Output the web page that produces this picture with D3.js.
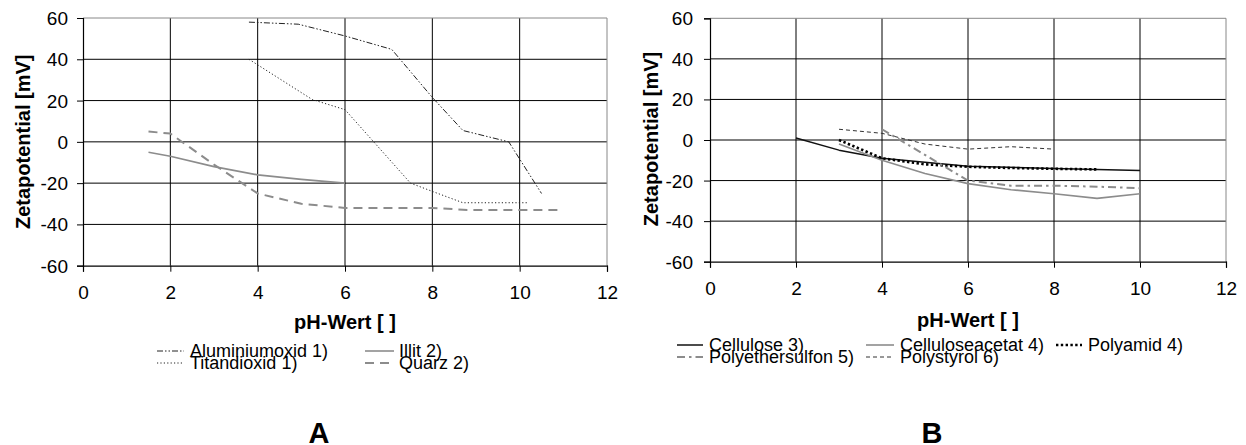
<!DOCTYPE html>
<html>
<head>
<meta charset="utf-8">
<script src="https://cdn.jsdelivr.net/npm/d3@7"></script>
<style>
  html, body { margin: 0; padding: 0; background: #fff; }
  svg { display: block; font-family: "Liberation Sans", Arial, sans-serif; }
</style>
</head>
<body>
<svg id="chart" width="1246" height="445"></svg>
<script>
// Axis ticks (both panels share the same axes)
const xTicks = [0, 2, 4, 6, 8, 10, 12];
const yTicks = [-60, -40, -20, 0, 20, 40, 60];
const xTitle = "pH-Wert [ ]";
const yTitle = "Zetapotential [mV]";

// Panel A: mineral particles
const aluminiumoxidPH = [3.8, 4.93, 6, 7.07, 8, 8.7, 9.75, 10.5];
const aluminiumoxidZeta = [58, 57, 51.3, 44.8, 21.5, 5.5, 0, -25];
const titandioxidPH = [3.8, 5.25, 6, 7.5, 8, 8.7, 10.2];
const titandioxidZeta = [40, 20.5, 15.6, -20, -24, -29.5, -29.5];
const illitPH = [1.5, 2, 3, 4, 5, 6];
const illitZeta = [-5, -7, -12, -16, -18.2, -20];
const quarzPH = [1.5, 2, 3, 4, 5, 6, 8, 8.8, 11];
const quarzZeta = [5, 4, -11, -25, -30, -32, -32, -33, -33];

// Panel B: polymer materials
const cellulosePH = [2, 3, 4, 6, 8, 10];
const celluloseZeta = [1, -5, -9, -13, -14, -15];
const celluloseacetatPH = [3, 4, 5, 6, 7, 8, 9, 10];
const celluloseacetatZeta = [-2, -10, -16.5, -21.5, -24.5, -26.5, -28.8, -26.5];
const polyamidPH = [3, 4, 5, 6, 7, 8, 9];
const polyamidZeta = [0, -9, -12, -13.2, -13.8, -14.2, -14.5];
const polyethersulfonPH = [4, 6, 7, 8, 9, 10];
const polyethersulfonZeta = [5.3, -20, -22.5, -22.5, -23, -23.8];
const polystyrolPH = [3, 4, 5, 6, 7, 8];
const polystyrolZeta = [5.3, 3.3, -2, -4.5, -3.3, -4.5];

const seriesA = [
  { name: "Aluminiumoxid 1)", x: aluminiumoxidPH, y: aluminiumoxidZeta, color: "#222", width: 1, dash: "6,2,1.5,2,1.5,2" },
  { name: "Titandioxid 1)",   x: titandioxidPH,   y: titandioxidZeta,   color: "#222", width: 1, dash: "1.2,2.2" },
  { name: "Illit 2)",         x: illitPH,         y: illitZeta,         color: "#8c8c8c", width: 1.6, dash: null },
  { name: "Quarz 2)",         x: quarzPH,         y: quarzZeta,         color: "#8c8c8c", width: 2, dash: "9,6" }
];
const seriesB = [
  { name: "Cellulose 3)",        x: cellulosePH,        y: celluloseZeta,        color: "#111", width: 1.5, dash: null },
  { name: "Celluloseacetat 4)",  x: celluloseacetatPH,  y: celluloseacetatZeta,  color: "#8c8c8c", width: 1.6, dash: null },
  { name: "Polyamid 4)",         x: polyamidPH,         y: polyamidZeta,         color: "#000", width: 2.6, dash: "2.4,2.4" },
  { name: "Polyethersulfon 5)",  x: polyethersulfonPH,  y: polyethersulfonZeta,  color: "#8c8c8c", width: 2, dash: "8,4,2.5,4" },
  { name: "Polystyrol 6)",       x: polystyrolPH,       y: polystyrolZeta,       color: "#333", width: 1, dash: "4,3" }
];

const svg = d3.select("#chart");
const FONT = "'Liberation Sans', Arial, sans-serif";

function drawPanel(opt) {
  const x = d3.scaleLinear().domain([0, 12]).range([opt.left, opt.right]);
  const y = d3.scaleLinear().domain([-60, 60]).range([opt.bottom, opt.top]);
  const g = svg.append("g");

  // grid
  g.append("g").selectAll("line").data(yTicks.filter(d => d > -60 && d < 60)).join("line")
    .attr("x1", opt.left).attr("x2", opt.right)
    .attr("y1", d => y(d)).attr("y2", d => y(d))
    .attr("stroke", "#000").attr("stroke-width", 1);
  g.append("g").selectAll("line").data(xTicks.filter(d => d > 0 && d < 12)).join("line")
    .attr("y1", opt.top).attr("y2", opt.bottom)
    .attr("x1", d => x(d)).attr("x2", d => x(d))
    .attr("stroke", "#000").attr("stroke-width", 1);

  // plot frame (top / right in gray)
  g.append("path")
    .attr("d", `M${opt.left},${opt.top}H${opt.right}V${opt.bottom}`)
    .attr("fill", "none").attr("stroke", "#888").attr("stroke-width", 1);

  // axes
  const fmt = d => String(d);
  const xAxis = d3.axisBottom(x).tickValues(xTicks).tickSize(6).tickPadding(opt.xPad).tickFormat(fmt);
  const yAxis = d3.axisLeft(y).tickValues(yTicks).tickSize(6).tickPadding(opt.yPad).tickFormat(fmt);
  const gx = g.append("g").attr("transform", `translate(0,${opt.bottom})`).call(xAxis);
  const gy = g.append("g").attr("transform", `translate(${opt.left},0)`).call(yAxis);
  [gx, gy].forEach(a => {
    a.select(".domain").attr("stroke", "#000").attr("stroke-width", 1.2);
    a.selectAll(".tick line").attr("stroke", "#000");
    a.selectAll("text").attr("fill", "#000").attr("font-size", 19).attr("font-family", FONT);
  });
  gy.selectAll("text").attr("dy", "0.34em");

  // axis titles
  g.append("text").attr("x", (opt.left + opt.right) / 2).attr("y", opt.xTitleY)
    .attr("text-anchor", "middle").attr("font-weight", "bold").attr("font-size", 20)
    .text(xTitle);
  g.append("text")
    .attr("transform", `translate(${opt.yTitleX},${opt.yTitleY}) rotate(-90)`)
    .attr("text-anchor", "middle").attr("font-weight", "bold").attr("font-size", 20)
    .text(yTitle);

  // series
  const line = d3.line().x(d => x(d[0])).y(d => y(d[1]));
  opt.series.forEach(s => {
    const pts = s.x.map((v, i) => [v, s.y[i]]);
    g.append("path").datum(pts).attr("d", line)
      .attr("fill", "none").attr("stroke", s.color).attr("stroke-width", s.width)
      .attr("stroke-dasharray", s.dash).attr("stroke-linejoin", "round");
  });

  // legend
  opt.legend.forEach(item => {
    const s = opt.series[item.i];
    g.append("line").attr("x1", item.x).attr("x2", item.x + item.w)
      .attr("y1", item.y - 6).attr("y2", item.y - 6)
      .attr("stroke", s.color).attr("stroke-width", s.width).attr("stroke-dasharray", s.dash);
    g.append("text").attr("x", item.tx).attr("y", item.y)
      .attr("font-size", 18).attr("fill", "#000").text(s.name);
  });

  // panel letter
  g.append("text").attr("x", opt.letterX).attr("y", opt.letterY)
    .attr("text-anchor", "middle").attr("font-weight", "bold").attr("font-size", 29)
    .text(opt.letter);
}

drawPanel({
  left: 83, right: 607, top: 18, bottom: 265.7,
  series: seriesA, xPad: 14, yPad: 9,
  xTitleY: 328.5, yTitleX: 30, yTitleY: 141.8,
  legend: [
    { i: 0, x: 157, w: 27, tx: 190, y: 357 },
    { i: 1, x: 157, w: 27, tx: 190, y: 369 },
    { i: 2, x: 365, w: 29, tx: 399, y: 357 },
    { i: 3, x: 365, w: 29, tx: 399, y: 369 }
  ],
  letter: "A", letterX: 319, letterY: 443
});

drawPanel({
  left: 710, right: 1226, top: 18.3, bottom: 261.7,
  series: seriesB, xPad: 14, yPad: 11,
  xTitleY: 326.5, yTitleX: 658, yTitleY: 139,
  legend: [
    { i: 0, x: 677, w: 26, tx: 709, y: 351 },
    { i: 1, x: 866, w: 28, tx: 900, y: 351 },
    { i: 2, x: 1056, w: 26, tx: 1088, y: 351 },
    { i: 3, x: 677, w: 26, tx: 709, y: 363 },
    { i: 4, x: 866, w: 28, tx: 900, y: 363 }
  ],
  letter: "B", letterX: 932, letterY: 443
});
</script>
</body>
</html>
